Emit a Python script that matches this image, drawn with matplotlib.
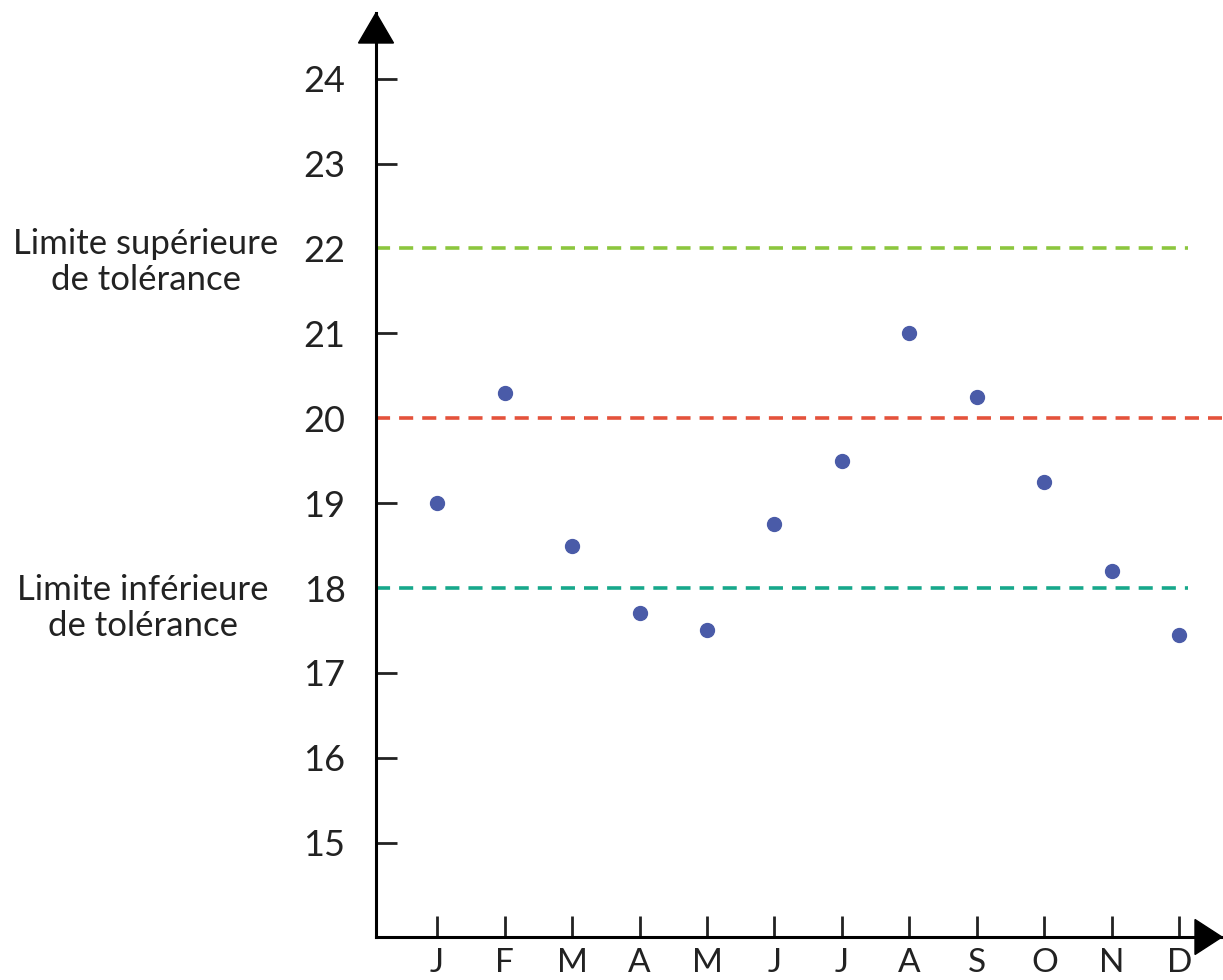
import matplotlib
matplotlib.use("Agg")
import matplotlib.pyplot as plt
from matplotlib.patches import Polygon
from matplotlib.transforms import blended_transform_factory

months = ["J", "F", "M", "A", "M", "J", "J", "A", "S", "O", "N", "D"]
values = [19.0, 20.3, 18.5, 17.7, 17.5, 18.75, 19.5, 21.0, 20.25, 19.25, 18.2, 17.45]
y_ticks = [15, 16, 17, 18, 19, 20, 21, 22, 23, 24]
upper_limit = 22
target = 20
lower_limit = 18
upper_label = "Limite supérieure\nde tolérance"
lower_label = "Limite inférieure\nde tolérance"

plt.rcParams['font.family'] = ['Lato', 'DejaVu Sans']

W, H = 1223, 980
fig = plt.figure(figsize=(W / 100, H / 100), dpi=100)
ax_l, ax_r, ax_t, ax_b = 376, 1222, 13, 937
ax = fig.add_axes([ax_l / W, 1 - ax_b / H, (ax_r - ax_l) / W, (ax_b - ax_t) / H])

x = list(range(len(months)))
ax.set_xlim(-0.904, 11.63)
ax.set_ylim(13.889, 24.774)

lw = 2.6
dash = (3.9, 2.5)
ax.plot([-0.904, 11.13], [upper_limit, upper_limit], color="#8cc63e", lw=lw, dashes=dash, zorder=3)
ax.plot([-0.904, 11.63], [target, target], color="#e4523b", lw=lw, dashes=dash, zorder=3)
ax.plot([-0.904, 11.13], [lower_limit, lower_limit], color="#17a88b", lw=lw, dashes=dash, zorder=3)

ax.plot(x, values, 'o', color="#4a5ba8", markersize=10, zorder=5, clip_on=False)

for s in ["top", "right"]:
    ax.spines[s].set_visible(False)
for s in ["left", "bottom"]:
    ax.spines[s].set_linewidth(2.2)
    ax.spines[s].set_color("black")
    ax.spines[s].set_zorder(4)

ax.set_xticks(x)
ax.set_xticklabels(months)
ax.set_yticks(y_ticks)
ax.set_yticklabels([str(v) for v in y_ticks])
ax.tick_params(axis='y', direction='in', length=15, width=2.0, pad=22, labelsize=26, colors='#222222')
ax.tick_params(axis='x', direction='in', length=15, width=2.0, pad=8, labelsize=24, colors='#222222')

# the dashed reference lines replace the tick marks at their levels
for tick, val in zip(ax.yaxis.get_major_ticks(), y_ticks):
    if val in (upper_limit, target, lower_limit):
        tick.tick1line.set_visible(False)

# arrow heads
aw = ax_r - ax_l
ah = ax_b - ax_t
ax.add_patch(Polygon([(0, 1), (-17.5 / aw, 1 - 30 / ah), (17.5 / aw, 1 - 30 / ah)],
                     closed=True, transform=ax.transAxes, color="black", clip_on=False, zorder=6))
ax.add_patch(Polygon([(1, 0), (1 - 27 / aw, 17.5 / ah), (1 - 27 / aw, -17.5 / ah)],
                     closed=True, transform=ax.transAxes, color="black", clip_on=False, zorder=6))

tr = blended_transform_factory(fig.transFigure, ax.transData)
ax.text(146 / W, upper_limit - 0.16, upper_label, transform=tr, ha='center', va='center',
        multialignment='center', fontsize=25, color='#222222', linespacing=1.15)
ax.text(143 / W, lower_limit - 0.24, lower_label, transform=tr, ha='center', va='center',
        multialignment='center', fontsize=25, color='#222222', linespacing=1.15)

fig.savefig("out.png", dpi=100)
